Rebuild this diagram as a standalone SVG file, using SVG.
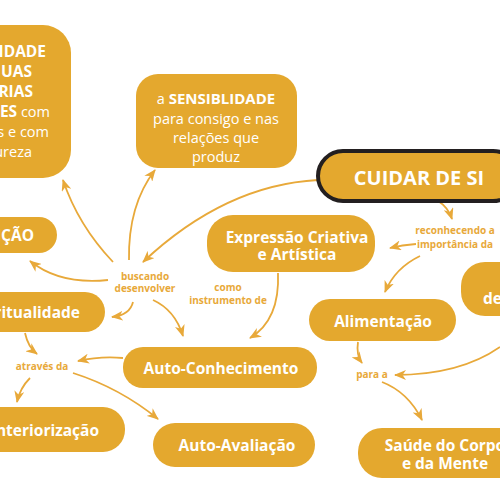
<svg xmlns="http://www.w3.org/2000/svg" width="500" height="500" viewBox="0 0 500 500">
<defs>
<style>
.n{fill:#E4A82E}
.t{font-family:"Open Sans","DejaVu Sans",sans-serif;font-weight:bold;font-size:15.5px;fill:#fff;text-anchor:middle}
.tr{font-family:"Open Sans","DejaVu Sans",sans-serif;font-size:14.5px;fill:#fff}
.b{font-weight:bold}
.l{font-family:"Open Sans","DejaVu Sans",sans-serif;font-weight:bold;font-size:10px;fill:#E8A93A;text-anchor:middle}
.c{fill:none;stroke:#E8A93A;stroke-width:1.8;marker-end:url(#ah)}
</style>
<marker id="ah" viewBox="0 0 12 10" refX="11" refY="5" markerWidth="12" markerHeight="10" markerUnits="userSpaceOnUse" orient="auto">
<path d="M0,0 L12,5 L0,10 L3.5,5 z" fill="#E8A93A"/>
</marker>
</defs>
<rect width="500" height="500" fill="#fff"/>
<g id="connectors">
<path class="c" d="M318,180 Q225,185 143,262"/>
<path class="c" d="M438,201 Q448,207 452,219"/>
<path class="c" d="M416,244 Q402,245 390,248"/>
<path class="c" d="M420,256 Q395,268 385,292"/>
<path class="c" d="M278,273 Q280,320 250,338"/>
<path class="c" d="M113,262 Q78,225 63,180"/>
<path class="c" d="M129,260 Q128,205 155,170"/>
<path class="c" d="M108,280 Q60,285 30,261"/>
<path class="c" d="M133,302 Q130,315 112,317"/>
<path class="c" d="M153,300 Q175,310 183,336"/>
<path class="c" d="M25,333 Q28,347 37,354"/>
<path class="c" d="M123,358 Q100,356 78,361"/>
<path class="c" d="M30,378 Q20,388 17,402"/>
<path class="c" d="M73,373 Q120,388 158,419"/>
<path class="c" d="M358,342 Q356,355 362,363"/>
<path class="c" d="M500,347 Q460,375 395,375"/>
<path class="c" d="M382,382 Q408,392 422,420"/>
<text class="l" x="455" y="234">reconhecendo a</text>
<text class="l" x="455" y="248">importância da</text>
<text class="l" x="228" y="291">como</text>
<text class="l" x="228" y="304">instrumento de</text>
<text class="l" x="145" y="280">buscando</text>
<text class="l" x="145" y="292">desenvolver</text>
<text class="l" x="42" y="370">através da</text>
<text class="l" x="372" y="378">para a</text>
</g>
<g id="n-identidade">
<rect class="n" x="-40" y="25" width="111" height="153" rx="28"/>
<text class="t" style="text-anchor:end" x="46" y="57">IDADE</text>
<text class="t" style="text-anchor:end" x="32" y="77">UAS</text>
<text class="t" style="text-anchor:end" x="33" y="97">RIAS</text>
<text class="tr" text-anchor="end" x="50" y="117"><tspan class="b" font-size="15.5">ES</tspan> com</text>
<text class="tr" text-anchor="end" x="49" y="137">s e com</text>
<text class="tr" text-anchor="end" x="32" y="157">ureza</text>
</g>
<g id="n-sensiblidade">
<rect class="n" x="136" y="74" width="161" height="94" rx="22"/>
<text class="tr" text-anchor="middle" x="216" y="104">a <tspan class="b" font-size="15">SENSIBLIDADE</tspan></text>
<text class="tr" text-anchor="middle" x="216" y="124">para consigo e nas</text>
<text class="tr" text-anchor="middle" x="216" y="143">relações que</text>
<text class="tr" text-anchor="middle" x="216" y="162">produz</text>
</g>
<g id="n-cuidar">
<rect class="n" x="318" y="151" width="200" height="50" rx="25" stroke="#231F20" stroke-width="4"/>
<text class="t" x="419" y="185" style="font-size:20px">CUIDAR DE SI</text>
</g>
<g id="n-icao">
<rect class="n" x="-40" y="217" width="97" height="36" rx="18"/>
<text class="t" style="text-anchor:end" x="34" y="240.5">IÇÃO</text>
</g>
<g id="n-expressao">
<rect class="n" x="207" y="215" width="168" height="57" rx="26"/>
<text class="t" x="297" y="242.5">Expressão Criativa</text>
<text class="t" x="297" y="259.5">e Artística</text>
</g>
<g id="n-espiritualidade">
<rect class="n" x="-40" y="292" width="145" height="40" rx="20"/>
<text class="t" style="text-anchor:end" x="80" y="317.5">ritualidade</text>
</g>
<g id="n-de">
<rect class="n" x="461" y="262" width="80" height="54" rx="24"/>
<text class="t" style="text-anchor:start" x="483" y="303.5">de</text>
</g>
<g id="n-alimentacao">
<rect class="n" x="309" y="299" width="147" height="42" rx="21"/>
<text class="t" x="383" y="326.5">Alimentação</text>
</g>
<g id="n-autoconhecimento">
<rect class="n" x="123" y="347" width="194" height="41" rx="20"/>
<text class="t" x="221" y="373.5">Auto-Conhecimento</text>
</g>
<g id="n-interiorizacao">
<rect class="n" x="-40" y="407" width="165" height="45" rx="22"/>
<text class="t" style="text-anchor:end" x="99" y="435.5">nteriorização</text>
</g>
<g id="n-autoavaliacao">
<rect class="n" x="153" y="423" width="162" height="44" rx="22"/>
<text class="t" x="237" y="450.5">Auto-Avaliação</text>
</g>
<g id="n-saude">
<rect class="n" x="358" y="428" width="180" height="50" rx="24"/>
<text class="t" x="445" y="450.5">Saúde do Corpo</text>
<text class="t" x="445" y="468.5">e da Mente</text>
</g>
</svg>
